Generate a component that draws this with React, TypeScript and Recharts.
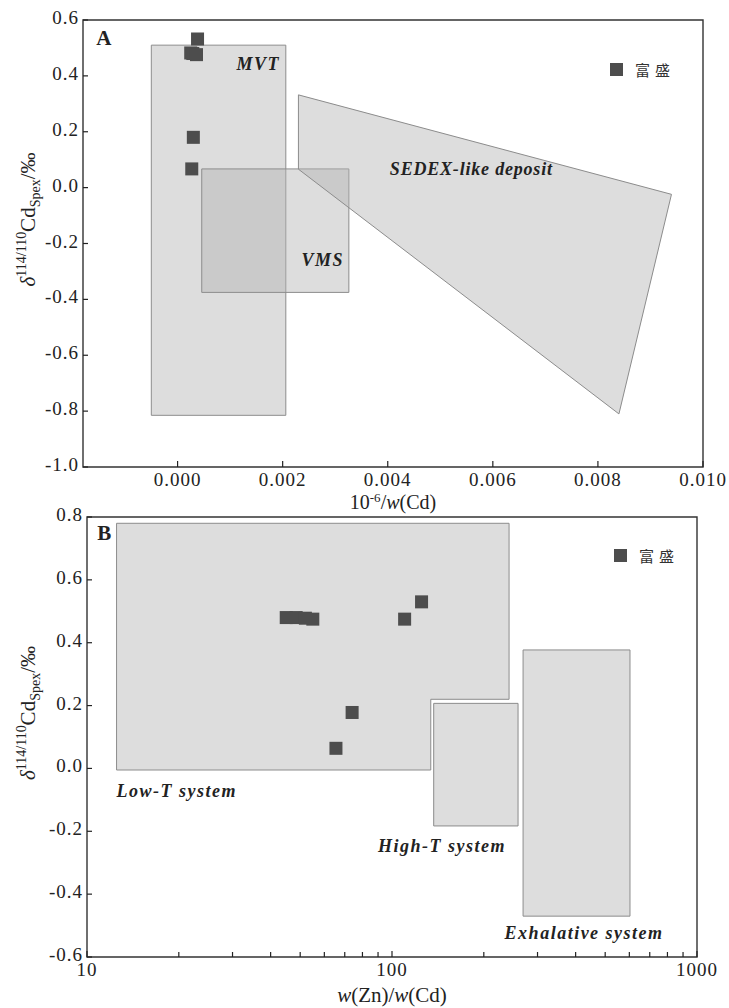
import {
  ScatterChart, Scatter, XAxis, YAxis, ReferenceArea, ReferenceDot, Legend,
} from "recharts";

const SERIF = '"Liberation Serif", "Times New Roman", serif';
const CJK = '"Noto Sans CJK SC", "Noto Sans CJK JP", sans-serif';
const INK = "#222";
const MARK = "#4d4d4d";
const ZONE_FILL = "#b4b4b4";
const ZONE_STROKE = "#8c8c8c";

// ---- panel A: 10^-6/w(Cd) vs δ114/110Cd
const aXDomain = [-0.0018, 0.01];
const aYDomain = [-1.0, 0.6];
const aXTicks = [0, 0.002, 0.004, 0.006, 0.008, 0.01];
const aYTicks = [-1.0, -0.8, -0.6, -0.4, -0.2, 0, 0.2, 0.4, 0.6];
const aInvCd = [0.00038, 0.00025, 0.00029, 0.00036, 0.0003, 0.00027];
const aDelta = [0.532, 0.482, 0.48, 0.476, 0.18, 0.067];
// boxes: [x1, x2, y1, y2]
const mvtBox = [-0.0005, 0.00206, -0.815, 0.51];
const vmsBox = [0.00046, 0.00326, -0.375, 0.067];
const sedexX = [0.0023, 0.0094, 0.0084, 0.0023];
const sedexY = [0.332, -0.024, -0.81, 0.066];

// ---- panel B: w(Zn)/w(Cd) vs δ114/110Cd
const bXDomain = [10, 1000];
const bYDomain = [-0.6, 0.8];
const bXTicks = [10, 20, 30, 40, 50, 60, 70, 80, 90, 100, 200, 300, 400, 500, 600, 700, 800, 900, 1000];
const bXLabels = [10, 100, 1000];
const bYTicks = [-0.6, -0.4, -0.2, 0, 0.2, 0.4, 0.6, 0.8];
const bZnCd = [45, 48.5, 52, 55, 65.5, 74, 110, 125];
const bDelta = [0.48, 0.48, 0.478, 0.475, 0.064, 0.178, 0.475, 0.53];
const lowTX = [12.5, 242, 242, 134, 134, 12.5];
const lowTY = [0.78, 0.78, 0.22, 0.22, -0.005, -0.005];
const highTBox = [137, 259, -0.183, 0.207];
const exhBox = [269, 603, -0.47, 0.377];

const aPoints = aInvCd.map((x, i) => ({ x, y: aDelta[i] }));
const bPoints = bZnCd.map((x, i) => ({ x, y: bDelta[i] }));

const squareShape = (p: any) => (
  <rect x={p.cx - 6.5} y={p.cy - 6.5} width={13} height={13} fill={MARK} />
);

// polygon drawn inside the bbox that the library scales give us
function polyShape(xs: number[], ys: number[], log: boolean) {
  const tx = (v: number) => (log ? Math.log10(v) : v);
  const x1 = Math.min(...xs.map(tx));
  const x2 = Math.max(...xs.map(tx));
  const y1 = Math.min(...ys);
  const y2 = Math.max(...ys);
  return (p: any) => {
    const pts = xs
      .map((v, i) => {
        const px = p.x + ((tx(v) - x1) / (x2 - x1)) * p.width;
        const py = p.y + ((y2 - ys[i]) / (y2 - y1)) * p.height;
        return `${px},${py}`;
      })
      .join(" ");
    return (
      <polygon points={pts} fill={ZONE_FILL} fillOpacity={0.45} stroke={ZONE_STROKE} strokeWidth={1} />
    );
  };
}

const textShape = (label: string, opts: { size?: number; italic?: boolean; spacing?: number } = {}) =>
  (p: any) => (
    <text
      x={p.cx}
      y={p.cy}
      fontFamily={SERIF}
      fontWeight="bold"
      fontStyle={opts.italic === false ? "normal" : "italic"}
      fontSize={opts.size ?? 18}
      letterSpacing={opts.spacing ?? 1}
      fill={INK}
    >
      {label}
    </text>
  );

// axis is 1px thick (recharts skips 0-size axes); ticks drawn inward by hand
const XTick = (p: any, labels: number[] | null, fmt: (v: number) => string, axisY: number) => {
  const v = p.payload.value;
  const show = labels ? labels.includes(v) : true;
  return (
    <g>
      <line x1={p.x} x2={p.x} y1={axisY} y2={axisY - (show ? 6 : 5)} stroke={INK} strokeWidth={1.2} />
      {show && (
        <text x={p.x} y={axisY + 19} textAnchor="middle" fontFamily={SERIF} fontSize={19} letterSpacing={1} fill={INK}>
          {fmt(v)}
        </text>
      )}
    </g>
  );
};

const YTick = (p: any, axisX: number) => (
  <g>
    <line x1={axisX} x2={axisX + 5} y1={p.y} y2={p.y} stroke={INK} strokeWidth={1.2} />
    <text x={axisX - 4} y={p.y + 4} textAnchor="end" fontFamily={SERIF} fontSize={19} letterSpacing={1} fill={INK}>
      {p.payload.value.toFixed(1)}
    </text>
  </g>
);

const YTitle = (vb: any, x: number) => {
  const cy = vb.y + vb.height / 2 - 24;
  return (
    <text
      x={x}
      y={cy}
      transform={`rotate(-90 ${x} ${cy})`}
      textAnchor="middle"
      fontFamily={SERIF}
      fontSize={21}
      fill={INK}
    >
      <tspan fontStyle="italic">δ</tspan>
      <tspan fontSize={14} dy={-9}>114/110</tspan>
      <tspan dy={9}>Cd</tspan>
      <tspan fontSize={14} dy={5}>Spex</tspan>
      <tspan dy={-5}>/‰</tspan>
    </text>
  );
};

const LegendBox = () => (
  <div style={{ display: "flex", alignItems: "center" }}>
    <div style={{ width: 13, height: 13, background: MARK }} />
    <span style={{ marginLeft: 12, fontFamily: CJK, fontSize: 15, letterSpacing: 5, color: "#333" }}>
      富盛
    </span>
  </div>
);

function PanelA() {
  const left = 83;
  const bottomY = 467;
  return (
    <ScatterChart width={729} height={516} margin={{ top: 20, right: 26, bottom: 48, left: left - 1 }}>
      <XAxis
        type="number"
        dataKey="x"
        domain={aXDomain}
        ticks={aXTicks}
        allowDataOverflow
        interval={0}
        height={1}
        axisLine={false}
        tickLine={false}
        tickSize={0}
        tickMargin={0}
        tick={(p: any) => XTick(p, null, (v) => v.toFixed(3), bottomY)}
        label={{
          content: (lp: any) => {
            const vb = lp.viewBox;
            return (
              <text x={vb.x + vb.width / 2} y={bottomY + 42} textAnchor="middle" fontFamily={SERIF} fontSize={20} fill={INK}>
                <tspan>10</tspan>
                <tspan fontSize={13} dy={-7}>-6</tspan>
                <tspan dy={7}>/</tspan>
                <tspan fontStyle="italic">w</tspan>
                <tspan>(Cd)</tspan>
              </text>
            );
          },
        }}
      />
      <YAxis
        type="number"
        dataKey="y"
        domain={aYDomain}
        ticks={aYTicks}
        allowDataOverflow
        interval={0}
        width={1}
        axisLine={false}
        tickLine={false}
        tickSize={0}
        tickMargin={0}
        tick={(p: any) => YTick(p, left)}
        label={{ content: (lp: any) => YTitle(lp.viewBox, 35) }}
      />
      <ReferenceArea x1={mvtBox[0]} x2={mvtBox[1]} y1={mvtBox[2]} y2={mvtBox[3]} fill={ZONE_FILL} fillOpacity={0.45} stroke={ZONE_STROKE} strokeOpacity={1} />
      <ReferenceArea x1={vmsBox[0]} x2={vmsBox[1]} y1={vmsBox[2]} y2={vmsBox[3]} fill={ZONE_FILL} fillOpacity={0.45} stroke={ZONE_STROKE} strokeOpacity={1} />
      <ReferenceArea
        x1={Math.min(...sedexX)}
        x2={Math.max(...sedexX)}
        y1={Math.min(...sedexY)}
        y2={Math.max(...sedexY)}
        shape={polyShape(sedexX, sedexY, false)}
      />
      <ReferenceArea x1={aXDomain[0]} x2={aXDomain[1]} y1={aYDomain[0]} y2={aYDomain[1]} fill="none" stroke="#333" strokeWidth={1.4} strokeOpacity={1} />
      <ReferenceDot x={-0.00155} y={0.51} r={0} shape={textShape("A", { size: 21, italic: false, spacing: 0 })} />
      <ReferenceDot x={0.00112} y={0.42} r={0} shape={textShape("MVT", { size: 18, spacing: 1.5 })} />
      <ReferenceDot x={0.00236} y={-0.28} r={0} shape={textShape("VMS", { size: 18, spacing: 1.5 })} />
      <ReferenceDot x={0.00404} y={0.045} r={0} shape={textShape("SEDEX-like deposit", { size: 18, spacing: 0.8 })} />
      <Scatter name="富盛" data={aPoints} shape={squareShape} isAnimationActive={false} />
      <Legend
        layout="vertical"
        align="center"
        verticalAlign="middle"
        wrapperStyle={{ left: 610, top: 59, width: 90, height: 20 }}
        content={() => <LegendBox />}
      />
    </ScatterChart>
  );
}

function PanelB() {
  const left = 87;
  const bottomY = 452;
  return (
    <ScatterChart width={729} height={503} margin={{ top: 12, right: 32, bottom: 50, left: left - 1 }}>
      <XAxis
        type="number"
        dataKey="x"
        scale="log"
        domain={bXDomain}
        ticks={bXTicks}
        allowDataOverflow
        interval={0}
        height={1}
        axisLine={false}
        tickLine={false}
        tickSize={0}
        tickMargin={0}
        tick={(p: any) => XTick(p, bXLabels, (v) => String(v), bottomY)}
        label={{
          content: (lp: any) => {
            const vb = lp.viewBox;
            return (
              <text x={vb.x + vb.width / 2} y={bottomY + 45} textAnchor="middle" fontFamily={SERIF} fontSize={21} fill={INK}>
                <tspan fontStyle="italic">w</tspan>
                <tspan>(Zn)/</tspan>
                <tspan fontStyle="italic">w</tspan>
                <tspan>(Cd)</tspan>
              </text>
            );
          },
        }}
      />
      <YAxis
        type="number"
        dataKey="y"
        domain={bYDomain}
        ticks={bYTicks}
        allowDataOverflow
        interval={0}
        width={1}
        axisLine={false}
        tickLine={false}
        tickSize={0}
        tickMargin={0}
        tick={(p: any) => YTick(p, left)}
        label={{ content: (lp: any) => YTitle(lp.viewBox, 35) }}
      />
      <ReferenceArea
        x1={Math.min(...lowTX)}
        x2={Math.max(...lowTX)}
        y1={Math.min(...lowTY)}
        y2={Math.max(...lowTY)}
        shape={polyShape(lowTX, lowTY, true)}
      />
      <ReferenceArea x1={highTBox[0]} x2={highTBox[1]} y1={highTBox[2]} y2={highTBox[3]} fill={ZONE_FILL} fillOpacity={0.45} stroke={ZONE_STROKE} strokeOpacity={1} />
      <ReferenceArea x1={exhBox[0]} x2={exhBox[1]} y1={exhBox[2]} y2={exhBox[3]} fill={ZONE_FILL} fillOpacity={0.45} stroke={ZONE_STROKE} strokeOpacity={1} />
      <ReferenceArea x1={bXDomain[0]} x2={bXDomain[1]} y1={bYDomain[0]} y2={bYDomain[1]} fill="none" stroke="#333" strokeWidth={1.4} strokeOpacity={1} />
      <ReferenceDot x={10.8} y={0.728} r={0} shape={textShape("B", { size: 21, italic: false, spacing: 0 })} />
      <ReferenceDot x={12.5} y={-0.092} r={0} shape={textShape("Low-T system", { size: 18, spacing: 1.5 })} />
      <ReferenceDot x={90} y={-0.267} r={0} shape={textShape("High-T system", { size: 18, spacing: 1.5 })} />
      <ReferenceDot x={234} y={-0.543} r={0} shape={textShape("Exhalative system", { size: 18, spacing: 1.5 })} />
      <Scatter name="富盛" data={bPoints} shape={squareShape} isAnimationActive={false} />
      <Legend
        layout="vertical"
        align="center"
        verticalAlign="middle"
        wrapperStyle={{ left: 614, top: 40, width: 90, height: 20 }}
        content={() => <LegendBox />}
      />
    </ScatterChart>
  );
}

export default function App() {
  return (
    <div style={{ position: "absolute", left: 0, top: 0, width: 729, height: 1008, background: "#fff" }}>
      <div style={{ position: "absolute", left: 0, top: 0 }}>
        <PanelA />
      </div>
      <div style={{ position: "absolute", left: 0, top: 505 }}>
        <PanelB />
      </div>
    </div>
  );
}
